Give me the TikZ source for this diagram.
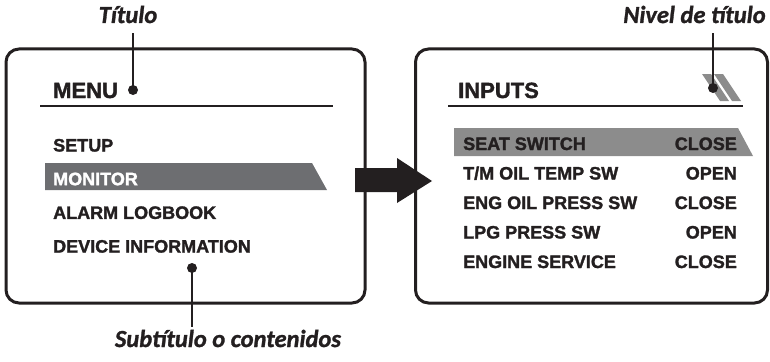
\documentclass[tikz,border=0pt]{standalone}
\usepackage{fontspec}
\setmainfont{Liberation Sans}[BoldFeatures={FakeBold=1.6}]
\newfontfamily\notefont{Carlito}[BoldItalicFeatures={FakeBold=1.2}]
\usepackage{xcolor}
\usetikzlibrary{positioning}

\definecolor{ink}{HTML}{231F20}
\definecolor{selbar}{HTML}{6D6E71}
\definecolor{rowbar}{HTML}{8C8C8C}

\begin{document}
\begin{tikzpicture}[
    x=1pt, y=-1pt,
    screen/.style={draw=ink, line width=3pt, rounded corners=13pt},
    heading/.style={font=\fontsize{22}{24}\selectfont\bfseries, text=ink,
      anchor=base west, inner sep=0pt},
    entry/.style={font=\fontsize{18}{20}\selectfont\bfseries, text=ink,
      anchor=base west, inner sep=0pt},
    state/.style={entry, anchor=base east},
    note/.style={font=\notefont\fontsize{24.5}{26}\selectfont\bfseries\itshape,
      text=ink, anchor=base, inner xsep=0pt, inner ysep=10pt},
    pin/.style={circle, fill=ink, inner sep=0pt, minimum size=10pt},
    lead/.style={draw=ink, line width=1.2pt},
    rule/.style={draw=ink, line width=1.3pt}
  ]
    \useasboundingbox (0,0) rectangle (770,361);

    % the two screens
    \node[screen, minimum width=359pt, minimum height=254pt] (menuscreen) at (185.5,176) {};
    \node[screen, minimum width=352pt, minimum height=254pt] (inputscreen) at (591.5,176) {};

    % left screen: menu
    \node[heading] (menu) at (53,98) {MENU};
    \draw[rule] (40,106) -- (333,106);
    \fill[selbar] (45,163) -- (312,163) -- (327,190) -- (45,190) -- cycle;
    \node[entry] (setup) at (53,151.5) {SETUP};
    \node[entry, text=white, below=33.7pt of setup.base west, anchor=base west] (monitor) {MONITOR};
    \node[entry, below=33.7pt of monitor.base west, anchor=base west] (alarm) {ALARM LOGBOOK};
    \node[entry, below=33.7pt of alarm.base west, anchor=base west] (device) {DEVICE INFORMATION};

    % right screen: inputs
    \node[heading] (inputs) at (458,98) {INPUTS};
    \draw[rule] (448,106) -- (743,106);
    \fill[rowbar] (702,74) -- (711,74) -- (729,101) -- (720,101) -- cycle;
    \fill[rowbar] (714,74) -- (723,74) -- (741,101) -- (732,101) -- cycle;
    \fill[rowbar] (454,128) -- (738,128) -- (753,156) -- (454,156) -- cycle;
    \coordinate (valcol) at (737,150);
    \node[entry] (seat) at (463,150) {SEAT SWITCH};
    \node[entry, below=29.5pt of seat.base west, anchor=base west] (oiltemp) {T/M OIL TEMP SW};
    \node[entry, below=29.5pt of oiltemp.base west, anchor=base west] (oilpress) {ENG OIL PRESS SW};
    \node[entry, below=29.5pt of oilpress.base west, anchor=base west] (lpg) {LPG PRESS SW};
    \node[entry, below=29.5pt of lpg.base west, anchor=base west] (service) {ENGINE SERVICE};
    \node[state] (seatval) at (valcol |- seat.base) {CLOSE};
    \node[state] (oiltempval) at (valcol |- oiltemp.base) {OPEN};
    \node[state] (oilpressval) at (valcol |- oilpress.base) {CLOSE};
    \node[state] (lpgval) at (valcol |- lpg.base) {OPEN};
    \node[state] (serviceval) at (valcol |- service.base) {CLOSE};

    % big arrow between the screens
    \fill[ink] (355,168) -- (397,168) -- (397,158) -- (432,181) -- (397,203)
      -- (397,192) -- (355,192) -- cycle;

    % callouts
    \node[note] (titulo) at (128,23) {Título};
    \node[note] (nivel) at (694.5,23) {Nivel de título};
    \node[note, inner ysep=3pt] (subtitulo) at (228,347) {Subtítulo o contenidos};
    \node[pin] (titlepin) at (133,90) {};
    \node[pin] (levelpin) at (713,88) {};
    \node[pin] (contentpin) at (192,268) {};
    \draw[lead] (titlepin.center) -- (titlepin.center |- titulo.south);
    \draw[lead] (levelpin.center) -- (levelpin.center |- nivel.south);
    \draw[lead] (contentpin.center) -- (contentpin.center |- subtitulo.north);
  \end{tikzpicture}
\end{document}
